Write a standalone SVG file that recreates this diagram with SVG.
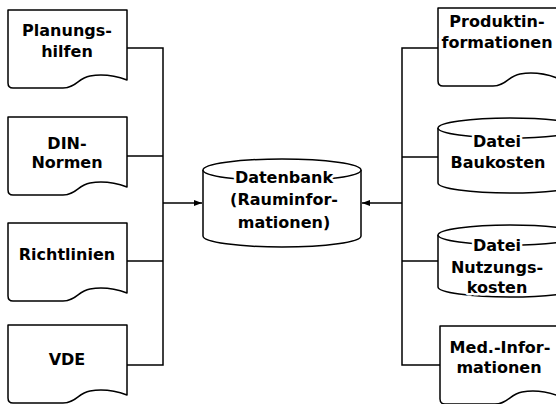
<svg xmlns="http://www.w3.org/2000/svg" xmlns:xlink="http://www.w3.org/1999/xlink" width="556" height="404" viewBox="0 0 556 404">
  <style>
    .shape { fill: #fff; stroke: #000; stroke-width: 1.5; stroke-linejoin: round; }
    .wire { fill: none; stroke: #000; stroke-width: 1.5; }
    .lbl { font-family: "DejaVu Sans", "Liberation Sans", sans-serif; font-weight: bold; font-size: 16px; text-anchor: middle; fill: #000; stroke: #fff; stroke-width: 5; paint-order: stroke; stroke-linejoin: round; }
  </style>
  <defs>
    <!-- document symbol with wavy bottom edge, 119 wide -->
    <path id="doc" d="M0,0 H119 V70 Q100,63 82,66 C70,68 68,78 55,78 H5 Q0,78 0,73 Z"/>
    <marker id="arrow" viewBox="0 0 8 6" refX="8" refY="3" markerWidth="8" markerHeight="6" markerUnits="userSpaceOnUse" orient="auto">
      <path d="M0,0 L8,3 L0,6 Z" fill="#000"/>
    </marker>
  </defs>
  <rect width="556" height="404" fill="#fff"/>

  <!-- connectors -->
  <g id="connectors" class="wire">
    <path d="M127,48 H163 V365 H127 M127,156 H163 M127,261 H163"/>
    <path d="M163,203 H202" marker-end="url(#arrow)"/>
    <path d="M438,48 H402 V365 H440 M402,157 H438 M402,261 H438"/>
    <path d="M402,203 H362" marker-end="url(#arrow)"/>
  </g>

  <!-- left column: documents -->
  <g id="planungshilfen">
    <use xlink:href="#doc" class="shape" transform="translate(8,10)"/>
    <text class="lbl" x="67" y="36">Planungs-</text>
    <text class="lbl" x="67" y="57">hilfen</text>
  </g>
  <g id="din-normen">
    <use xlink:href="#doc" class="shape" transform="translate(8,117)"/>
    <text class="lbl" x="67" y="149">DIN-</text>
    <text class="lbl" x="67" y="168">Normen</text>
  </g>
  <g id="richtlinien">
    <use xlink:href="#doc" class="shape" transform="translate(8,223)"/>
    <text class="lbl" x="67" y="260">Richtlinien</text>
  </g>
  <g id="vde">
    <use xlink:href="#doc" class="shape" transform="translate(8,325)"/>
    <text class="lbl" x="67" y="365">VDE</text>
  </g>

  <!-- centre: database -->
  <g id="datenbank">
    <path class="shape" d="M203,170 V236 A79,11 0 0 0 361,236 V170"/>
    <ellipse class="shape" cx="282" cy="170" rx="79" ry="11"/>
    <text class="lbl" x="284" y="183">Datenbank</text>
    <text class="lbl" x="284" y="205">(Rauminfor-</text>
    <text class="lbl" x="284" y="228">mationen)</text>
  </g>

  <!-- right column -->
  <g id="produktinformationen">
    <use xlink:href="#doc" class="shape" transform="translate(438,8)"/>
    <text class="lbl" x="497" y="27">Produktin-</text>
    <text class="lbl" x="497" y="48">formationen</text>
  </g>
  <g id="datei-baukosten">
    <path class="shape" d="M438,128 V183 A72,10 0 0 0 582,183 V128"/>
    <ellipse class="shape" cx="510" cy="128" rx="72" ry="10"/>
    <text class="lbl" x="497" y="147">Datei</text>
    <text class="lbl" x="498" y="168">Baukosten</text>
  </g>
  <g id="datei-nutzungskosten">
    <path class="shape" d="M438,235 V287 A72,10 0 0 0 582,287 V235"/>
    <ellipse class="shape" cx="510" cy="235" rx="72" ry="10"/>
    <text class="lbl" x="497" y="251">Datei</text>
    <text class="lbl" x="497" y="273">Nutzungs-</text>
    <text class="lbl" x="497" y="293">kosten</text>
  </g>
  <g id="med-informationen">
    <use xlink:href="#doc" class="shape" transform="translate(440,326)"/>
    <text class="lbl" x="500" y="353">Med.-Infor-</text>
    <text class="lbl" x="499" y="373">mationen</text>
  </g>
</svg>
